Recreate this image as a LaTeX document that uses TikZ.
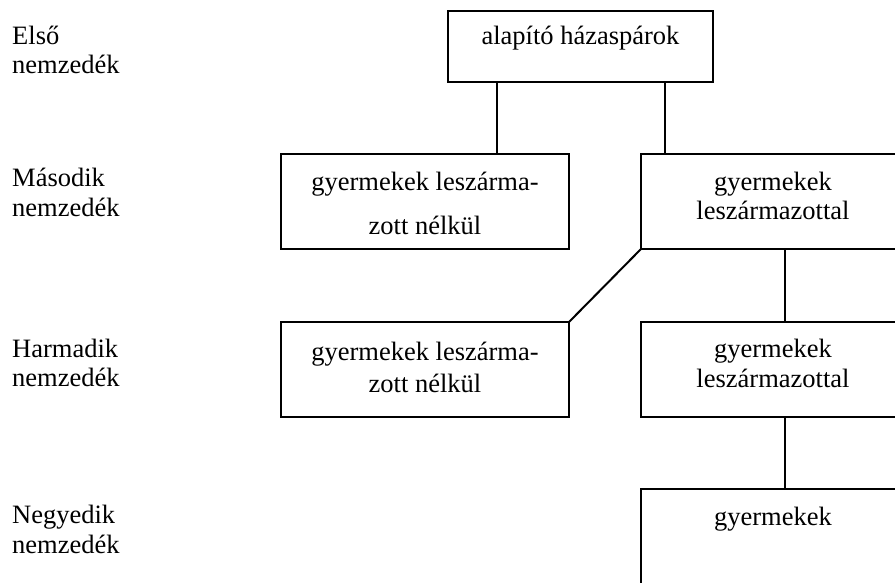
\documentclass[tikz,border=0pt]{standalone}
\usepackage{fontspec}
\setmainfont{Liberation Serif}
\begin{document}
\begin{tikzpicture}[x=1pt,y=-1pt,
  box/.style={draw, line width=2pt, rectangle, outer sep=0pt, inner sep=0pt, anchor=north west},
  conn/.style={line width=2pt},
  txt/.style={anchor=base, inner sep=0pt, font=\fontsize{26.5}{29}\selectfont},
  gen/.style={anchor=base west, inner sep=0pt, font=\fontsize{26.5}{29}\selectfont}]
\useasboundingbox (0,0) rectangle (895,583);
\clip (0,0) rectangle (895,583);
% boxes
\node[box, minimum width=265pt, minimum height=71pt] (top) at (448,11) {};
\node[box, minimum width=288pt, minimum height=95pt] (r2l) at (281,154) {};
\node[box, minimum width=264pt, minimum height=95pt] (r2r) at (641,154) {};
\node[box, minimum width=288pt, minimum height=95pt] (r3l) at (281,322) {};
\node[box, minimum width=264pt, minimum height=95pt] (r3r) at (641,322) {};
\node[box, minimum width=264pt, minimum height=130pt] (r4) at (641,489) {};
% texts in boxes
\node[txt] (ttop) at (580.5,45) {alapító házaspárok};
\node[txt] (t2l) at (425,190) {\begin{tabular}[t]{@{}c@{}}gyermekek leszárma-\\[15pt]zott nélkül\end{tabular}};
\node[txt] (t2r) at (773,190) {\begin{tabular}[t]{@{}c@{}}gyermekek\\leszármazottal\end{tabular}};
\node[txt] (t3l) at (425,360) {\begin{tabular}[t]{@{}c@{}}gyermekek leszárma-\\[3pt]zott nélkül\end{tabular}};
\node[txt] (t3r) at (773,357) {\begin{tabular}[t]{@{}c@{}}gyermekek\\[1pt]leszármazottal\end{tabular}};
\node[txt] (t4) at (773,525) {gyermekek};
% generation labels
\node[gen] (g1) at (12,45) {\begin{tabular}[t]{@{}l@{}}Első\\nemzedék\end{tabular}};
\node[gen] (g2) at (12,187) {\begin{tabular}[t]{@{}l@{}}Második\\nemzedék\end{tabular}};
\node[gen] (g3) at (12,357) {\begin{tabular}[t]{@{}l@{}}Harmadik\\nemzedék\end{tabular}};
\node[gen] (g4) at (12,523) {\begin{tabular}[t]{@{}l@{}}Negyedik\\[1pt]nemzedék\end{tabular}};
% connectors
\coordinate (ca) at (497,0);
\coordinate (cb) at (665,0);
\coordinate (cc) at (785,0);
\draw[conn] (top.south -| ca) -- (r2l.north -| ca);
\draw[conn] (top.south -| cb) -- (r2r.north -| cb);
\draw[conn] (r2r.south west) -- (r3l.north east);
\draw[conn] (r2r.south -| cc) -- (r3r.north -| cc);
\draw[conn] (r3r.south -| cc) -- (r4.north -| cc);
\end{tikzpicture}
\end{document}
